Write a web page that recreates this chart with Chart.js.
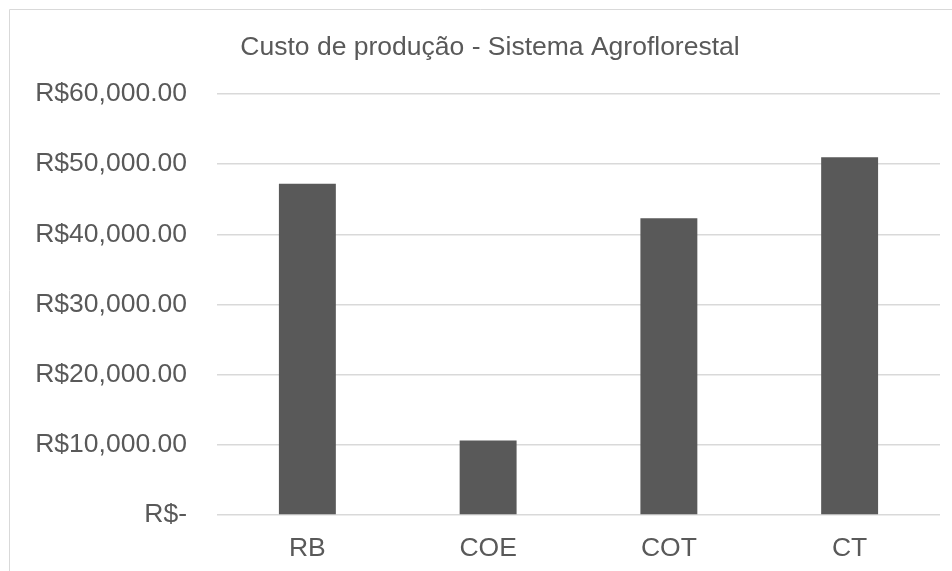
<!DOCTYPE html>
<html>
<head>
<meta charset="utf-8">
<script src="https://cdn.jsdelivr.net/npm/chart.js@4"></script>
<style>
    html, body { margin: 0; padding: 0; background: #fff; }
    #wrap { width: 952px; height: 571px; position: relative; }
</style>
</head>
<body>
<div id="wrap"><canvas id="custoChart"></canvas></div>
<script>
// Chart data
const categories = ['RB', 'COE', 'COT', 'CT'];
const custoValues = [47200, 10600, 42300, 51000];
const yTicks = [0, 10000, 20000, 30000, 40000, 50000, 60000];

const textColor = '#595959';
const fontFamily = '"Liberation Sans", Arial, sans-serif';

// Format like Excel accounting style
function formatReal(value) {
    if (value === 0) {
        return 'R$-';
    }
    return 'R$' + value.toLocaleString('en-US', { minimumFractionDigits: 2, maximumFractionDigits: 2 });
}

// Light border at the left and top of the chart box, title nudged right
const chartBorder = {
    id: 'chartBorder',
    afterLayout(chart) {
        if (chart.titleBlock) {
            chart.titleBlock.left = 40;
        }
    },
    beforeDraw(chart) {
        const ctx = chart.ctx;
        ctx.save();
        ctx.strokeStyle = '#d9d9d9';
        ctx.lineWidth = 1;
        ctx.beginPath();
        ctx.moveTo(9.5, chart.height);
        ctx.lineTo(9.5, 9.5);
        ctx.lineTo(chart.width, 9.5);
        ctx.stroke();
        ctx.restore();
    }
};

const ctx = document.getElementById('custoChart').getContext('2d');
new Chart(ctx, {
    type: 'bar',
    data: {
        labels: categories,
        datasets: [{
            label: 'Custo de produção',
            data: custoValues,
            backgroundColor: '#595959',
            categoryPercentage: 1,
            barPercentage: 0.315
        }]
    },
    options: {
        responsive: true,
        maintainAspectRatio: false,
        animation: false,
        layout: {
            padding: { left: 0, right: 12, top: 0, bottom: 0 }
        },
        plugins: {
            legend: { display: false },
            tooltip: { enabled: false },
            title: {
                display: true,
                text: 'Custo de produção - Sistema Agroflorestal',
                color: textColor,
                font: { family: fontFamily, size: 26.5, weight: 'normal' },
                padding: { top: 32, bottom: 30.2 }
            }
        },
        scales: {
            x: {
                grid: { display: false },
                border: { display: false },
                ticks: {
                    color: textColor,
                    font: { family: fontFamily, size: 26.5 },
                    padding: 10
                },
                afterFit(scale) {
                    scale.height = 56;
                }
            },
            y: {
                min: 0,
                max: 60000,
                afterBuildTicks(scale) {
                    scale.ticks = yTicks.map(v => ({ value: v }));
                },
                grid: {
                    color: '#d9d9d9',
                    lineWidth: 1.5,
                    drawTicks: false
                },
                border: { display: false },
                ticks: {
                    color: textColor,
                    font: { family: fontFamily, size: 26.5 },
                    padding: 30,
                    callback: value => formatReal(value)
                },
                afterFit(scale) {
                    scale.width = 217;
                }
            }
        }
    },
    plugins: [chartBorder]
});
</script>
</body>
</html>
